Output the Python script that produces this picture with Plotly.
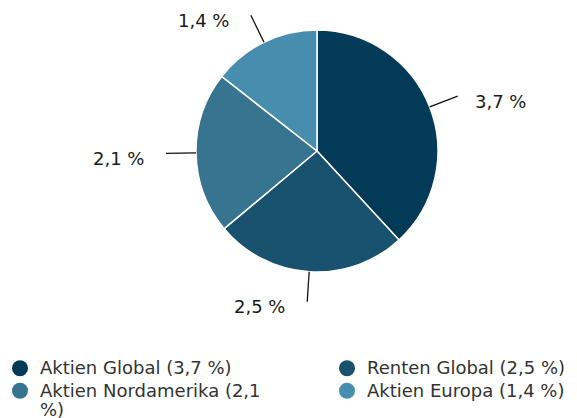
import math
import plotly.graph_objects as go

labels = ["Aktien Global", "Renten Global", "Aktien Nordamerika", "Aktien Europa"]
values = [3.7, 2.5, 2.1, 1.4]
value_text = ["3,7 %", "2,5 %", "2,1 %", "1,4 %"]
legend_text = ["Aktien Global (3,7 %)", "Renten Global (2,5 %)",
               "Aktien Nordamerika (2,1<br>%)", "Aktien Europa (1,4 %)"]
legend_column = ["legend", "legend2", "legend", "legend2"]
colors = ["#033a57", "#18526f", "#37748f", "#478eae"]

W, H = 577, 418
CX, CY, R = 317, 151, 121
FONT = "DejaVu Sans"

fig = go.Figure()
fig.add_trace(go.Pie(
    labels=labels, values=values, sort=False, direction="clockwise",
    marker=dict(colors=colors, line=dict(color="white", width=1.5)),
    textinfo="none", showlegend=False,
    domain=dict(x=[(CX - R) / W, (CX + R) / W],
                y=[1 - (CY + R) / H, 1 - (CY - R) / H]),
))

# legend entries as circle markers, in two columns
for name, col, lg in zip(legend_text, colors, legend_column):
    lines = name.split("<br>")
    styled = "<br>".join('<span style="font-size:18px">%s</span>' % ln for ln in lines)
    fig.add_trace(go.Scatter(x=[None], y=[None], mode="markers", name=styled,
                             legend=lg,
                             marker=dict(color=col, size=16, symbol="circle")))

total = sum(values)
cum = 0.0
shapes, annotations = [], []
L = 30
for v, t in zip(values, value_text):
    mid = (cum + v / 2) / total * 2 * math.pi
    cum += v
    s, c = math.sin(mid), math.cos(mid)
    x0, y0 = CX + R * s, CY - R * c
    x1, y1 = CX + (R + L) * s, CY - (R + L) * c
    shapes.append(dict(type="line", xref="paper", yref="paper",
                       x0=x0 / W, y0=1 - y0 / H, x1=x1 / W, y1=1 - y1 / H,
                       line=dict(color="#111", width=1.3)))
    right = s > 0
    lx = x1 + (15 if right else -20)
    annotations.append(dict(text=t, xref="paper", yref="paper", showarrow=False,
                            x=lx / W, y=1 - (y1 + 5) / H,
                            xanchor="left" if right else "right", yanchor="middle",
                            font=dict(family=FONT, size=18, color="#1a1a1a")))

legend_style = dict(orientation="v", xanchor="left", yanchor="top", valign="top",
                    y=1 - 352 / H, tracegroupgap=0, itemsizing="trace",
                    bgcolor="rgba(0,0,0,0)",
                    font=dict(family=FONT, size=15, color="#333"))

fig.update_layout(
    width=W, height=H, margin=dict(l=0, r=0, t=0, b=0, autoexpand=False),
    paper_bgcolor="white", plot_bgcolor="white",
    xaxis=dict(visible=False), yaxis=dict(visible=False),
    shapes=shapes, annotations=annotations,
    legend=dict(x=0, **legend_style),
    legend2=dict(x=327 / W, **legend_style),
    font=dict(family=FONT),
)
fig.write_html("out.html", config={"displayModeBar": False},
               post_script="document.body.style.margin='0';")
